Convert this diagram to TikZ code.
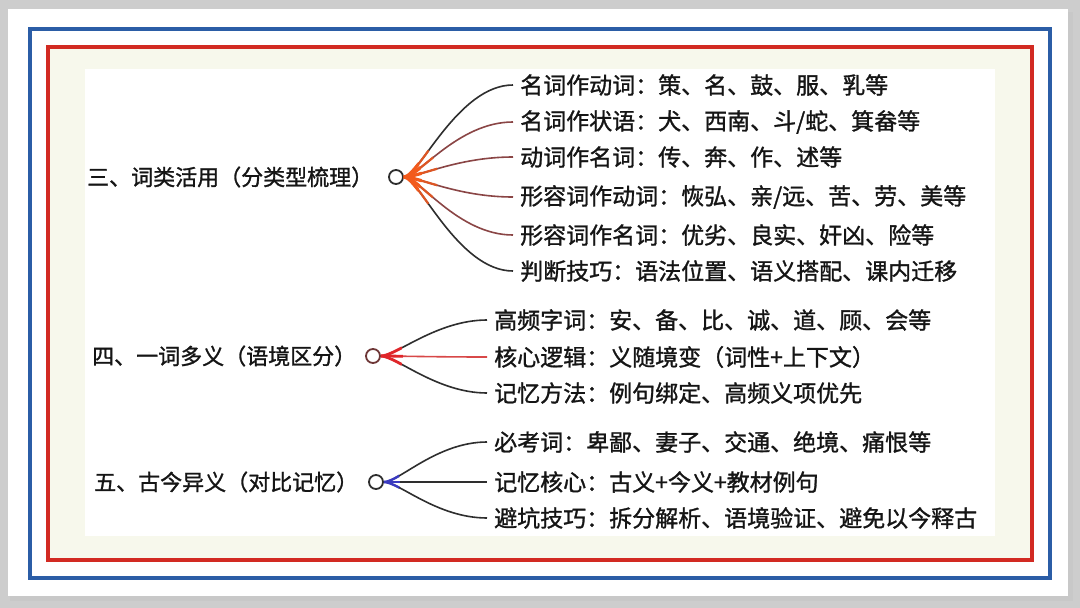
\documentclass[tikz,border=0pt]{standalone}
\usepackage{fontspec}
\setmainfont{Noto Sans CJK SC}[FakeBold=1.2]
\definecolor{bgGray}{HTML}{CDCDCD}
\definecolor{shadowGray}{HTML}{B0B0B0}
\definecolor{bBlue}{HTML}{2B5DA6}
\definecolor{rRed}{HTML}{D22A22}
\definecolor{cream}{HTML}{F7F8EC}
\definecolor{ink}{HTML}{151515}
\definecolor{lineDark}{HTML}{2E2E2E}
\definecolor{lineMaroon}{HTML}{8A4545}
\definecolor{hotOrange}{HTML}{F25A1C}
\definecolor{hotRed}{HTML}{E0262A}
\definecolor{softRed}{HTML}{D84848}
\definecolor{hubBlue}{HTML}{3A3AC0}
\begin{document}
\begin{tikzpicture}[x=1pt,y=-1pt]
\tikzset{
  lbl/.style={font=\fontsize{22}{22}\selectfont, text=ink, inner sep=0pt, anchor=west},
  item/.style={font=\fontsize{23}{23}\selectfont, text=ink, inner xsep=7pt, inner ysep=0pt, anchor=west},
  hub/.style={circle, draw=lineDark, line width=1.8pt, minimum size=14pt, inner sep=0pt},
  branch/.style={line width=1.6pt, draw=lineDark},
}
\useasboundingbox (0,0) rectangle (1080,608);
% page background and card
\fill[bgGray] (0,0) rectangle (1080,608);
\fill[shadowGray!70] (10,12) rectangle (1073,601);
\fill[white] (8,9) rectangle (1068,596);
\fill[cream] (48,47) rectangle (1032,560);
\fill[white] (85,69) rectangle (995,536);
\draw[bBlue, line width=4pt] (30,29) rectangle (1050,578);
\draw[rRed, line width=4pt] (48,47) rectangle (1032,560);

% ---------- group 1 ----------
\node[lbl] (t1) at (87,177) {三、词类活用（分类型梳理）};
\node[hub] (h1) at (396,177) {};
\node[item] (a1) at (513,85) {名词作动词：策、名、鼓、服、乳等};
\node[item] (a2) at (513,122) {名词作状语：犬、西南、斗/蛇、箕畚等};
\node[item] (a3) at (513,157) {动词作名词：传、奔、作、述等};
\node[item] (a4) at (513,197) {形容词作动词：恢弘、亲/远、苦、劳、美等};
\node[item] (a5) at (513,235) {形容词作名词：优劣、良实、奸凶、险等};
\node[item] (a6) at (513,271) {判断技巧：语法位置、语义搭配、课内迁移};
\draw[branch] (h1.east) .. controls +(15,0) and +(-55,0) .. (a1.west);
\draw[branch, draw=lineMaroon] (h1.east) .. controls +(15,0) and +(-55,0) .. (a2.west);
\draw[branch, draw=lineMaroon] (h1.east) .. controls +(15,0) and +(-55,0) .. (a3.west);
\draw[branch, draw=lineMaroon] (h1.east) .. controls +(15,0) and +(-55,0) .. (a4.west);
\draw[branch, draw=lineMaroon] (h1.east) .. controls +(15,0) and +(-55,0) .. (a5.west);
\draw[branch] (h1.east) .. controls +(15,0) and +(-55,0) .. (a6.west);
\begin{scope}
  \clip (h1.center) circle (42);
  \foreach \k in {a1,a2,a3,a4,a5,a6}
    \draw[line width=2.2pt, draw=hotOrange!80!lineMaroon] (h1.east) .. controls +(15,0) and +(-55,0) .. (\k.west);
\end{scope}
\begin{scope}
  \clip (h1.center) circle (26);
  \foreach \k in {a1,a2,a3,a4,a5,a6}
    \draw[line width=3.2pt, draw=hotOrange] (h1.east) .. controls +(15,0) and +(-55,0) .. (\k.west);
\end{scope}

% ---------- group 2 ----------
\node[lbl] (t2) at (92,356) {四、一词多义（语境区分）};
\node[hub, draw=lineMaroon!80!black] (h2) at (373,356) {};
\node[item] (b1) at (487,320) {高频字词：安、备、比、诚、道、顾、会等};
\node[item] (b2) at (487,357) {核心逻辑：义随境变（词性+上下文）};
\node[item] (b3) at (487,393) {记忆方法：例句绑定、高频义项优先};
\draw[branch] (h2.east) .. controls +(15,0) and +(-50,0) .. (b1.west);
\draw[branch, draw=softRed] (h2.east) .. controls +(15,0) and +(-50,0) .. (b2.west);
\draw[branch] (h2.east) .. controls +(15,0) and +(-50,0) .. (b3.west);
\begin{scope}
  \clip (h2.center) circle (30);
  \foreach \k in {b1,b2,b3}
    \draw[line width=2.8pt, draw=hotRed] (h2.east) .. controls +(15,0) and +(-50,0) .. (\k.west);
\end{scope}

% ---------- group 3 ----------
\node[lbl] (t3) at (94,482) {五、古今异义（对比记忆）};
\node[hub] (h3) at (376,482) {};
\node[item] (c1) at (487,442) {必考词：卑鄙、妻子、交通、绝境、痛恨等};
\node[item] (c2) at (487,482) {记忆核心：古义+今义+教材例句};
\node[item] (c3) at (487,518) {避坑技巧：拆分解析、语境验证、避免以今释古};
\draw[branch] (h3.east) .. controls +(15,0) and +(-50,0) .. (c1.west);
\draw[branch] (h3.east) .. controls +(15,0) and +(-50,0) .. (c2.west);
\draw[branch] (h3.east) .. controls +(15,0) and +(-50,0) .. (c3.west);
\begin{scope}
  \clip (h3.center) circle (24);
  \foreach \k in {c1,c2,c3}
    \draw[line width=2.4pt, draw=hubBlue] (h3.east) .. controls +(15,0) and +(-50,0) .. (\k.west);
\end{scope}
\end{tikzpicture}
\end{document}
